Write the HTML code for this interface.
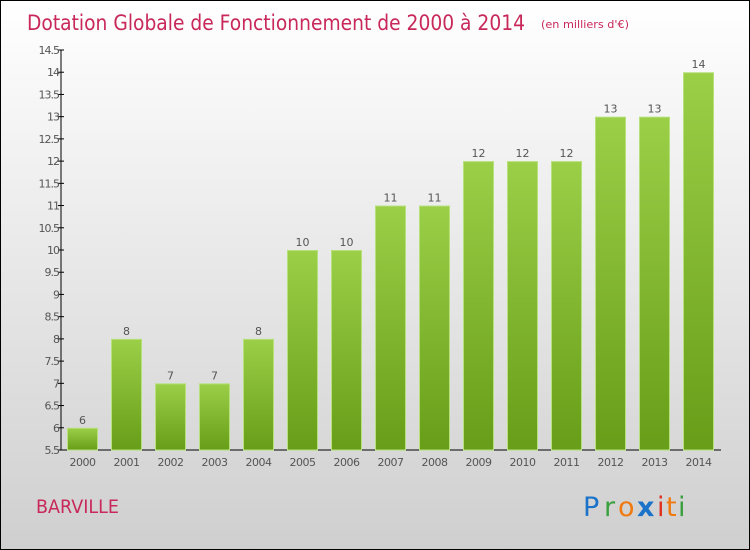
<!DOCTYPE html>
<html><head><meta charset="utf-8"><style>
body{margin:0;}
#c{position:relative;width:748px;height:548px;border:1px solid #000;background:linear-gradient(#fff,#cfcfcf);font-family:"DejaVu Sans","Liberation Sans",sans-serif;overflow:hidden}
</style></head><body>
<div id="c">
<svg id="s" width="748" height="548" xmlns="http://www.w3.org/2000/svg">
<defs><linearGradient id="g" x1="0" y1="0" x2="0" y2="1"><stop offset="0" stop-color="#9ccf48"/><stop offset="1" stop-color="#679d18"/></linearGradient></defs>
<text x="26" y="29" font-size="21" fill="#c8285a" textLength="498" lengthAdjust="spacingAndGlyphs" font-family="DejaVu Sans">Dotation Globale de Fonctionnement de 2000 à 2014</text>
<text x="540" y="27" font-size="11" fill="#c8285a" textLength="88" lengthAdjust="spacingAndGlyphs">(en milliers d'€)</text>
<text x="35" y="512" font-size="19" fill="#c8285a" textLength="83" lengthAdjust="spacingAndGlyphs">BARVILLE</text>
<g font-size="27" font-family="DejaVu Sans">
<text x="582" y="515" fill="#1a73c8">P</text><text x="603" y="515" fill="#3aa040">r</text><text x="617" y="515" fill="#f07a10">o</text><text x="636" y="515" fill="#1a73c8" font-weight="bold">x</text><text x="656" y="515" fill="#e03020">i</text><text x="665" y="515" fill="#f07a10">t</text><text x="677" y="515" fill="#3aa040">i</text></g>
<g id="plot"></g>
</svg></div>
<script>
const years=["2000","2001","2002","2003","2004","2005","2006","2007","2008","2009","2010","2011","2012","2013","2014"];
const values=[6,8,7,7,8,10,10,11,11,12,12,12,13,13,14];
const ticks=[5.5,6,6.5,7,7.5,8,8.5,9,9.5,10,10.5,11,11.5,12,12.5,13,13.5,14,14.5];
const ns="http://www.w3.org/2000/svg";
const g=document.getElementById('plot');
const y=v=>449-(v-5.5)*(400/9);
const x=i=>66+i*44;
function mk(t,a){const e=document.createElementNS(ns,t);for(const k in a)e.setAttribute(k,a[k]);g.appendChild(e);return e;}
let ax=mk('line',{x1:60,y1:49,x2:60,y2:449,stroke:'#000'});


let bx=mk('line',{x1:60,y1:449,x2:720,y2:449,stroke:'#000'});


ticks.forEach(t=>{
 mk('line',{x1:57,y1:y(t),x2:63,y2:y(t),stroke:'#000'});
 let e=mk('text',{x:58,y:y(t)+4,'font-size':11,'text-anchor':'end',fill:'#555','letter-spacing':'-1'});
 e.textContent=String(t);
 
 
});
values.forEach((v,i)=>{
 let r=mk('rect',{x:x(i)+0.5,y:y(v)+0.5,width:30,height:449-y(v)-0.5,fill:'url(#g)',stroke:'#b5e07a','stroke-width':1});
 
 
 let l=mk('text',{x:x(i)+15.5,y:y(v)-4,'font-size':11,'text-anchor':'middle',fill:'#555'});
 l.textContent=v;
 
 
 let k=mk('text',{x:x(i)+15.5,y:465,'font-size':11,'text-anchor':'middle',fill:'#555','letter-spacing':'-0.5'});
 k.textContent=years[i];
 
 
});
</script>
</body></html>
